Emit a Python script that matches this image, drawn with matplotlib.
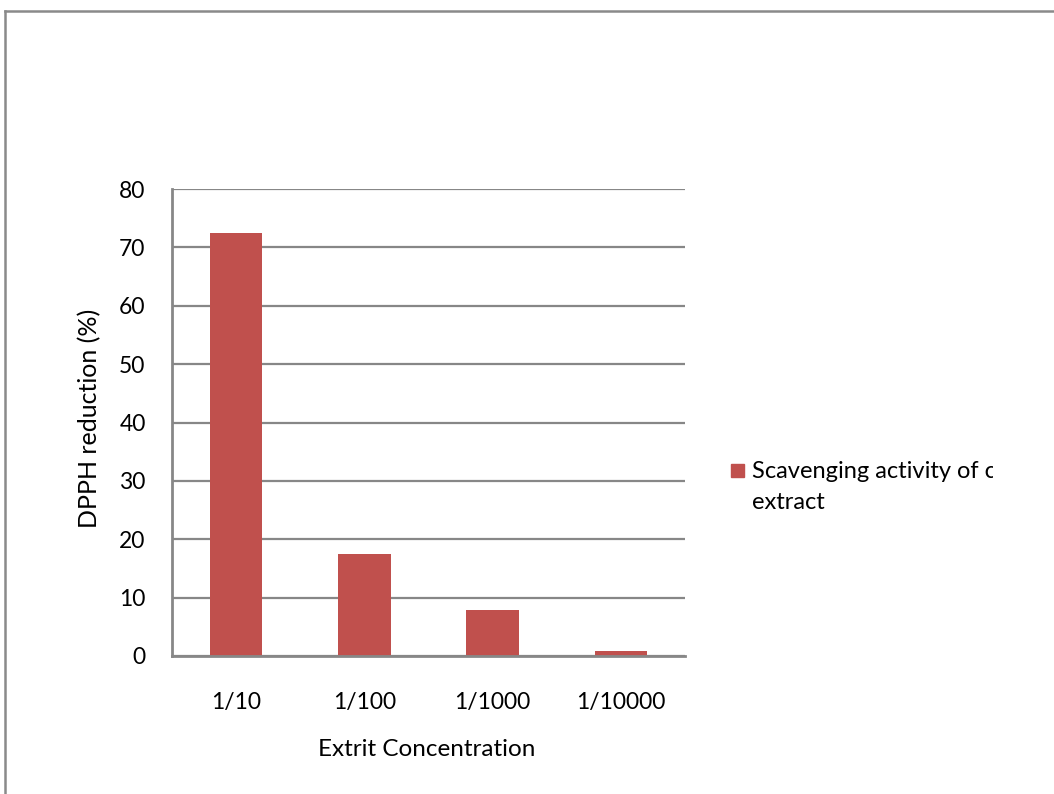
import matplotlib
matplotlib.use("Agg")
import matplotlib.pyplot as plt
from matplotlib.patches import Rectangle
from matplotlib.lines import Line2D
from matplotlib.transforms import Bbox

categories = ["1/10", "1/100", "1/1000", "1/10000"]
values = [72.5, 17.5, 7.8, 0.8]
series_name = "Scavenging activity of c"
series_name_line2 = "extract"
y_ticks = [0, 10, 20, 30, 40, 50, 60, 70, 80]

bar_color = "#C0504D"
grid_color = "#878787"
font = ["Lato", "DejaVu Sans"]

W, H = 1054, 794
fig = plt.figure(figsize=(W / 100, H / 100), dpi=100)
fig.patch.set_facecolor("white")

# outer chart frame (left and top edges visible)
fig.add_artist(Line2D([4.5 / W, 4.5 / W], [0, 1 - 11 / H], color="#8a8a8a", lw=1.8,
                      transform=fig.transFigure))
fig.add_artist(Line2D([4.5 / W, 1], [1 - 11 / H, 1 - 11 / H], color="#8a8a8a", lw=1.8,
                      transform=fig.transFigure))

ax = fig.add_axes([172 / W, 1 - 656 / H, (685 - 172) / W, (656 - 189) / H])
x = range(len(categories))
ax.bar(x, values, width=0.41, color=bar_color, zorder=3)
ax.set_xlim(-0.5, len(categories) - 0.5)
ax.set_ylim(0, 80)
ax.set_yticks(y_ticks)
ax.set_yticklabels([str(v) for v in y_ticks], fontsize=16.5, family=font)
ax.set_xticks(list(x))
ax.set_xticklabels(categories, fontsize=16.5, family=font)
ax.tick_params(axis="both", length=0)
ax.tick_params(axis="y", pad=19)
ax.tick_params(axis="x", pad=26)
ax.grid(axis="y", color=grid_color, lw=1.6, zorder=0)
for s in ["top", "right"]:
    ax.spines[s].set_visible(False)
for s in ["left", "bottom"]:
    ax.spines[s].set_color(grid_color)
    ax.spines[s].set_linewidth(2)
    ax.spines[s].set_zorder(4)

fig.text(90 / W, 1 - 418 / H, "DPPH reduction (%)", fontsize=18, family=font,
         rotation=90, ha="center", va="center")
fig.text(427 / W, 1 - 750 / H, "Extrit Concentration", fontsize=17.5, family=font,
         ha="center", va="center")

# legend drawn by hand so its text can be clipped at the chart edge
fig.add_artist(Rectangle((731 / W, 1 - 477 / H), 13 / W, 13 / H, color=bar_color,
                         transform=fig.transFigure))
clip = Bbox.from_extents(0, 0, 993, H)
t1 = fig.text(752 / W, 1 - 472 / H, series_name, fontsize=17, family=font,
              ha="left", va="center")
t1.set_clip_box(clip)
t1.set_clip_on(True)
fig.text(752 / W, 1 - 503 / H, series_name_line2, fontsize=17, family=font,
         ha="left", va="center")

fig.savefig("out.png", dpi=100, facecolor="white")
